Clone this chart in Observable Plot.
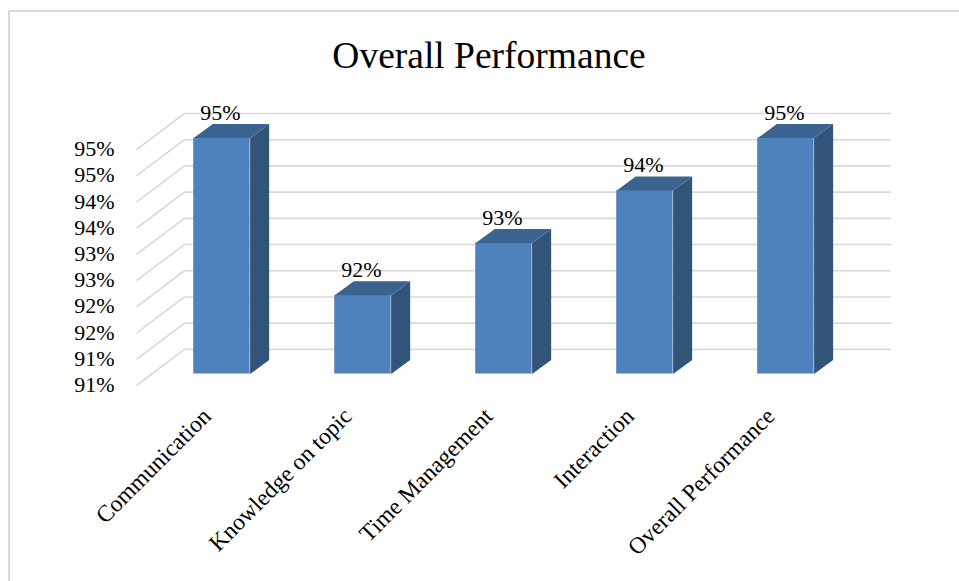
<!DOCTYPE html>
<html>
<head>
<meta charset="utf-8">
<script src="https://cdn.jsdelivr.net/npm/d3@7"></script>
<script src="https://cdn.jsdelivr.net/npm/@observablehq/plot@0.6"></script>
<style>
  html, body { margin: 0; padding: 0; background: #fff; overflow: hidden; }
  #frame { position: absolute; left: 8px; top: 10px; width: 951px; height: 571px; box-sizing: border-box;
           border-top: 2px solid #d9d9d9; border-left: 2px solid #d9d9d9; overflow: hidden; }
  #title { height: 78px; width: 949px; position: relative; font-family: "Liberation Serif", serif; font-size: 37.5px; color: #000; }
  #title span { position: absolute; left: 0; width: 958px; text-align: center; top: 24px; line-height: 40px; }
  svg { display: block; }
</style>
</head>
<body>
<div id="frame">
  <div id="title"><span>Overall Performance</span></div>
  <div id="chart"></div>
</div>
<script>
const categories = ["Communication", "Knowledge on topic", "Time Management", "Interaction", "Overall Performance"];
const values = [95, 92, 93, 94, 95];
const tickValues = [90.5, 91, 91.5, 92, 92.5, 93, 93.5, 94, 94.5, 95];
const tickLabels = ["91%", "91%", "92%", "92%", "93%", "93%", "94%", "94%", "95%", "95%"];
const baseValue = 90.5;

// Pseudo-3D depths, expressed in data units
const xMin = -0.606, xMax = 4.749, yMax = 95.689;
const wallX = -0.266, wallY = 0.689;   // side wall depth
const halfBar = 0.2, depthX = 0.135, depthY = 0.268;   // bar half-width and depth
const barLift = -11.5;                 // bars stand halfway into the floor

const bars = values.map((v, i) => ({i, v, label: v + "%"}));
const sidePts = bars.flatMap(({i, v}) => [
  {id: i, x: i + halfBar, y: baseValue},
  {id: i, x: i + halfBar + depthX, y: baseValue + depthY},
  {id: i, x: i + halfBar + depthX, y: v + depthY},
  {id: i, x: i + halfBar, y: v}
]);
const topPts = bars.flatMap(({i, v}) => [
  {id: i, x: i - halfBar, y: v},
  {id: i, x: i - halfBar + depthX, y: v + depthY},
  {id: i, x: i + halfBar + depthX, y: v + depthY},
  {id: i, x: i + halfBar, y: v}
]);

const grid = "#d9d9d9";
const chart = Plot.plot({
  width: 949, height: 491,
  marginLeft: 126, marginRight: 68, marginTop: 23, marginBottom: 196,
  style: {fontFamily: "'Liberation Serif', serif", background: "transparent", color: "#000"},
  x: {domain: [xMin, xMax]},
  y: {domain: [baseValue, yMax]},
  marks: [
    Plot.link(tickValues, {x1: xMin, x2: wallX, y1: d => d, y2: d => d + wallY, stroke: grid, strokeWidth: 1.6}),
    Plot.ruleY(tickValues, {y: d => d + wallY, x1: wallX, x2: xMax, stroke: grid, strokeWidth: 1.6}),
    Plot.axisY({ticks: tickValues, tickFormat: d => tickLabels[tickValues.indexOf(d)], tickSize: 0, tickPadding: 22, fontSize: 22, label: null, anchor: "left", dy: -0.5}),
    Plot.axisX({ticks: categories.map((_, i) => i), tickFormat: i => categories[i], tickRotate: -45, tickSize: 0, fontSize: 23.5, textAnchor: "end", label: null, anchor: "bottom", dx: -15, dy: 15}),
    Plot.rectY(bars, {x1: d => d.i - halfBar, x2: d => d.i + halfBar, y1: baseValue, y2: "v", fill: "#4f81bd", dy: barLift}),
    Plot.line(sidePts, {x: "x", y: "y", z: "id", fill: "#325479", stroke: "none", dy: barLift}),
    Plot.line(topPts, {x: "x", y: "y", z: "id", fill: "#3b6390", stroke: "none", dy: barLift}),
    Plot.text(bars, {x: "i", y: "v", text: "label", fontSize: 22, fill: "#000", dx: -1.5, dy: -37})
  ]
});
document.getElementById("chart").appendChild(chart);
</script>
</body>
</html>
